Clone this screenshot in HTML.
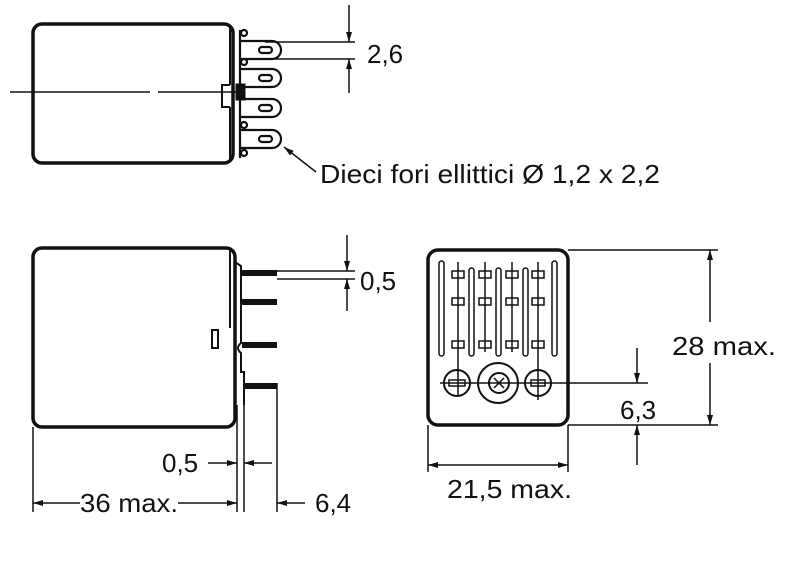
<!DOCTYPE html>
<html><head><meta charset="utf-8"><style>
html,body{margin:0;padding:0;background:#fff;}
svg{display:block;}
text{font-family:"Liberation Sans",Arial,sans-serif;fill:#111;}
</style></head><body>
<svg width="810" height="576" viewBox="0 0 810 576" xmlns="http://www.w3.org/2000/svg">
<defs>
<marker id="a" markerWidth="10" markerHeight="6" refX="10" refY="3" orient="auto" markerUnits="userSpaceOnUse"><path d="M0,0 L10,3 L0,6 z" fill="#111"/></marker>
</defs>
<g stroke="#111" fill="none">
<!-- TOP VIEW -->
<rect x="33" y="24" width="200" height="139" rx="9" stroke-width="3.5"/>
<line x1="230" y1="26" x2="230" y2="85" stroke-width="2"/>
<line x1="230" y1="107" x2="230" y2="161" stroke-width="2"/>
<path d="M230,85 H222 V107 H230" stroke-width="2"/>
<line x1="10" y1="92" x2="150" y2="92" stroke-width="1.5"/>
<line x1="158" y1="92" x2="240" y2="92" stroke-width="1.5"/>
<rect x="236" y="84" width="9" height="16" fill="#111"/>
<g stroke-width="2.2">
<path d="M240,41 H272 a9,9 0 0 1 0,18 H240"/>
<path d="M240,69 H272 a9,9 0 0 1 0,18 H240"/>
<path d="M240,99 H272 a9,9 0 0 1 0,18 H240"/>
<path d="M240,130 H272 a9,9 0 0 1 0,18 H240"/>
<rect x="259" y="47" width="13" height="6" rx="3"/>
<rect x="259" y="75" width="13" height="6" rx="3"/>
<rect x="259" y="105" width="13" height="6" rx="3"/>
<rect x="259" y="136" width="13" height="6" rx="3"/>
<circle cx="244" cy="33" r="3"/><circle cx="244" cy="62" r="3"/>
<circle cx="244" cy="125" r="3"/><circle cx="244" cy="153" r="3"/>
<line x1="240" y1="30" x2="240" y2="158"/>
</g>
<line x1="265" y1="42" x2="355" y2="42" stroke-width="1.5"/>
<line x1="265" y1="59" x2="355" y2="59" stroke-width="1.5"/>
<line x1="349" y1="5" x2="349" y2="42" stroke-width="1.5" marker-end="url(#a)"/>
<line x1="349" y1="93" x2="349" y2="59" stroke-width="1.5" marker-end="url(#a)"/>
<line x1="316" y1="172" x2="284" y2="147" stroke-width="1.5" marker-end="url(#a)"/>

<!-- SIDE VIEW -->
<rect x="33" y="248" width="202" height="179" rx="9" stroke-width="3.5"/>
<line x1="230" y1="250" x2="230" y2="328" stroke-width="2"/>
<path d="M235,262 L241,266 V343 Q235,348 241,353 V372 H244 V405" stroke-width="2"/>
<line x1="237" y1="405" x2="237" y2="512" stroke-width="1.5"/>
<line x1="244" y1="405" x2="244" y2="512" stroke-width="1.5"/>
<rect x="212" y="330" width="6" height="18" stroke-width="2"/>
<g fill="#111" stroke="none">
<rect x="242" y="270" width="35" height="6"/>
<rect x="242" y="299" width="35" height="6"/>
<rect x="242" y="342" width="35" height="6"/>
<rect x="244" y="383" width="33" height="6"/>
</g>
<line x1="277" y1="383" x2="277" y2="512" stroke-width="1.5"/>
<line x1="33" y1="427" x2="33" y2="512" stroke-width="1.5"/>
<line x1="277" y1="271" x2="355" y2="271" stroke-width="1.5"/>
<line x1="277" y1="279" x2="355" y2="279" stroke-width="1.5"/>
<line x1="347" y1="235" x2="347" y2="271" stroke-width="1.5" marker-end="url(#a)"/>
<line x1="347" y1="311" x2="347" y2="279" stroke-width="1.5" marker-end="url(#a)"/>
<line x1="208" y1="463" x2="237" y2="463" stroke-width="1.5" marker-end="url(#a)"/>
<line x1="272" y1="463" x2="244" y2="463" stroke-width="1.5" marker-end="url(#a)"/>
<line x1="80" y1="503" x2="33" y2="503" stroke-width="1.5" marker-end="url(#a)"/>
<line x1="178" y1="503" x2="237" y2="503" stroke-width="1.5" marker-end="url(#a)"/>
<line x1="305" y1="503" x2="277" y2="503" stroke-width="1.5" marker-end="url(#a)"/>

<!-- FRONT VIEW -->
<rect x="428" y="250" width="140" height="175" rx="10" stroke-width="3.5"/>
<g stroke-width="1.5">
<rect x="439" y="261" width="5" height="95" rx="2.5"/>
<rect x="469" y="268" width="5" height="88" rx="2.5"/>
<rect x="496" y="268" width="5" height="88" rx="2.5"/>
<rect x="523" y="268" width="5" height="88" rx="2.5"/>
<rect x="552" y="261" width="5" height="95" rx="2.5"/>
<line x1="458" y1="262" x2="458" y2="395"/>
<rect x="452" y="271" width="12" height="7"/>
<rect x="452" y="298" width="12" height="7"/>
<rect x="452" y="341" width="12" height="7"/>
<line x1="485" y1="262" x2="485" y2="352"/>
<rect x="479" y="271" width="12" height="7"/><rect x="479" y="298" width="12" height="7"/><rect x="479" y="341" width="12" height="7"/>
<line x1="512" y1="262" x2="512" y2="352"/>
<rect x="506" y="271" width="12" height="7"/><rect x="506" y="298" width="12" height="7"/><rect x="506" y="341" width="12" height="7"/>
<line x1="538" y1="262" x2="538" y2="400"/>
<rect x="532" y="271" width="12" height="7"/><rect x="532" y="298" width="12" height="7"/><rect x="532" y="341" width="12" height="7"/>
<line x1="440" y1="383" x2="648" y2="383"/>
</g>
<circle cx="457" cy="383" r="13" stroke-width="2"/>
<rect x="449" y="380" width="16" height="6" stroke-width="1.5"/>
<circle cx="498" cy="383" r="20" stroke-width="2"/>
<circle cx="499" cy="383" r="10" stroke-width="2"/>
<path d="M494,378 L504,388 M504,378 L494,388" stroke-width="1.5"/>
<circle cx="538" cy="383" r="13" stroke-width="2"/>
<rect x="531" y="380" width="14" height="6" stroke-width="1.5"/>
<line x1="568" y1="250" x2="718" y2="250" stroke-width="1.5"/>
<line x1="568" y1="425" x2="718" y2="425" stroke-width="1.5"/>
<line x1="710" y1="322" x2="710" y2="250" stroke-width="1.5" marker-end="url(#a)"/>
<line x1="710" y1="363" x2="710" y2="425" stroke-width="1.5" marker-end="url(#a)"/>
<line x1="637" y1="348" x2="637" y2="383" stroke-width="1.5" marker-end="url(#a)"/>
<line x1="637" y1="465" x2="637" y2="425" stroke-width="1.5" marker-end="url(#a)"/>
<line x1="428" y1="425" x2="428" y2="472" stroke-width="1.5"/>
<line x1="568" y1="425" x2="568" y2="472" stroke-width="1.5"/>
<line x1="498" y1="465" x2="428" y2="465" stroke-width="1.5" marker-end="url(#a)"/>
<line x1="498" y1="465" x2="568" y2="465" stroke-width="1.5" marker-end="url(#a)"/>
</g>
<g font-size="26">
<text x="367" y="63">2,6</text>
<text x="320" y="183" textLength="340" lengthAdjust="spacingAndGlyphs">Dieci fori ellittici Ø 1,2 x 2,2</text>
<text x="360" y="290">0,5</text>
<text x="162" y="472">0,5</text>
<text x="80" y="512" textLength="98" lengthAdjust="spacingAndGlyphs">36 max.</text>
<text x="315" y="512">6,4</text>
<text x="672" y="355" textLength="104" lengthAdjust="spacingAndGlyphs">28 max.</text>
<text x="620" y="419">6,3</text>
<text x="447" y="498" textLength="125" lengthAdjust="spacingAndGlyphs">21,5 max.</text>
</g>
</svg>
</body></html>
